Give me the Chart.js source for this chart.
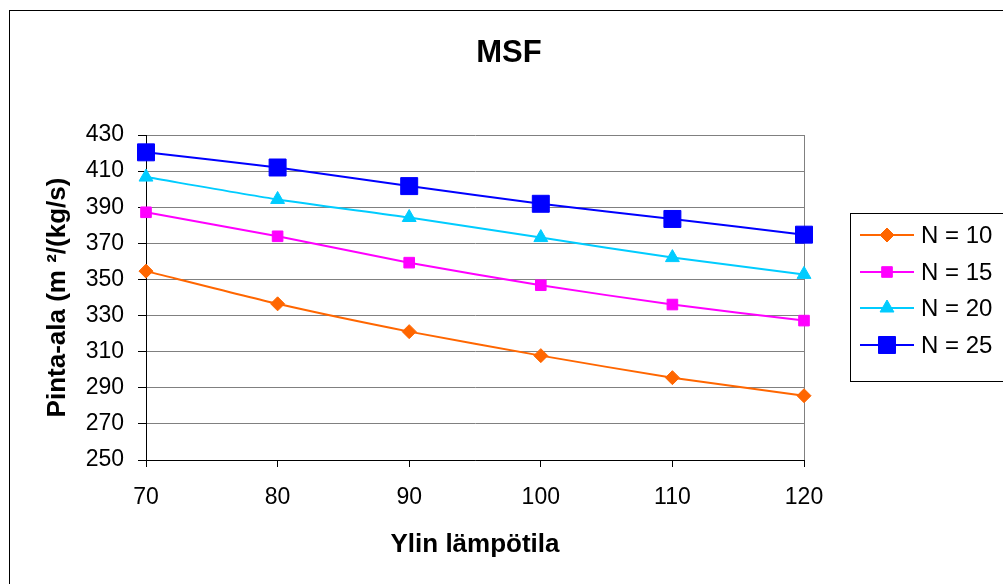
<!DOCTYPE html>
<html><head><meta charset="utf-8">
<script src="https://cdn.jsdelivr.net/npm/chart.js@4/dist/chart.umd.min.js"></script>
<style>html,body{margin:0;padding:0;background:#fff;}canvas{display:block;}</style>
</head><body>
<canvas id="c" width="1003" height="584"></canvas>
<script>
const temps = [70, 80, 90, 100, 110, 120];
const n10 = [354.6, 336.5, 321.1, 307.8, 295.6, 285.6];
const n15 = [387.2, 373.9, 359.3, 346.8, 336.1, 327.2];
const n20 = [406.7, 394.3, 384.3, 373.2, 362.1, 352.8];
const n25 = [420.4, 412.0, 401.7, 391.9, 383.5, 374.8];
const seriesLabels = ['N = 10', 'N = 15', 'N = 20', 'N = 25'];
const titleText = 'MSF';
const xTitle = 'Ylin lämpötila';
const yTitle = 'Pinta-ala (m ²/(kg/s)';

const FONT = "'Liberation Sans', Arial, sans-serif";
const styles = [
  {c:'#FF6600', ps:'rectRot', r:7},
  {c:'#FF00FF', ps:'rect', r:7.5},
  {c:'#00CCFF', ps:'triangle', r:8},
  {c:'#0000FF', ps:'rect', r:12}
];
const values = [n10, n15, n20, n25];
const datasets = values.map((v, i) => ({
  label: seriesLabels[i],
  data: temps.map((t, j) => ({x: t, y: v[j]})),
  borderColor: styles[i].c,
  backgroundColor: styles[i].c,
  pointBackgroundColor: styles[i].c,
  pointBorderColor: styles[i].c,
  pointStyle: styles[i].ps,
  pointRadius: styles[i].r,
  pointBorderWidth: 1,
  borderWidth: 2,
  tension: 0.2,
  clip: false
}));

const decor = {
  id: 'decor',
  beforeDraw(chart) {
    const ctx = chart.ctx;
    ctx.save();
    ctx.fillStyle = '#fff';
    ctx.fillRect(0, 0, chart.width, chart.height);
    ctx.restore();
  },
  beforeDatasetsDraw(chart) {
    const ctx = chart.ctx, a = chart.chartArea;
    ctx.save();
    ctx.strokeStyle = '#808080'; ctx.lineWidth = 1;
    ctx.beginPath(); ctx.moveTo(Math.round(a.right) + 0.5, a.top); ctx.lineTo(Math.round(a.right) + 0.5, a.bottom); ctx.stroke();
    ctx.restore();
  },
  afterDraw(chart) {
    const ctx = chart.ctx;
    ctx.save();
    // outer border
    ctx.strokeStyle = '#000'; ctx.lineWidth = 1;
    ctx.strokeRect(9.5, 10.5, 1100, 700);
    // title
    ctx.fillStyle = '#000';
    ctx.font = 'bold 31px ' + FONT;
    ctx.textAlign = 'center'; ctx.textBaseline = 'middle';
    ctx.fillText(titleText, 509, 53);
    // legend
    ctx.strokeStyle = '#000'; ctx.lineWidth = 1;
    ctx.strokeRect(850.5, 213.5, 200, 168);
    const ys = [235, 272, 308, 345];
    chart.data.datasets.forEach((ds, i) => {
      const y = ys[i];
      ctx.strokeStyle = ds.borderColor; ctx.lineWidth = 2;
      ctx.beginPath(); ctx.moveTo(860, y); ctx.lineTo(914, y); ctx.stroke();
      ctx.fillStyle = ds.borderColor; ctx.strokeStyle = ds.borderColor; ctx.lineWidth = 1;
      Chart.helpers.drawPoint(ctx, {pointStyle: ds.pointStyle, radius: ds.pointRadius, rotation: 0, borderWidth: 1}, 887, y);
      ctx.fillStyle = '#000';
      ctx.font = '24px ' + FONT;
      ctx.textAlign = 'left'; ctx.textBaseline = 'middle';
      ctx.fillText(ds.label, 921, y + 1);
    });
    ctx.restore();
  }
};

new Chart(document.getElementById('c'), {
  type: 'line',
  data: { datasets },
  options: {
    responsive: false,
    animation: false,
    layout: { padding: { left: 10, top: 135, right: 199, bottom: 0 } },
    plugins: { legend: { display: false }, title: { display: false }, tooltip: { enabled: false } },
    scales: {
      x: {
        type: 'linear', min: 70, max: 120,
        ticks: { stepSize: 10, color: '#000', font: { family: FONT, size: 23 }, padding: 17, maxRotation: 0 },
        grid: { drawOnChartArea: false, drawTicks: true, tickLength: 7, color: '#000' },
        border: { color: '#000', width: 1 },
        title: { display: true, text: xTitle, color: '#000', font: { family: FONT, size: 26, weight: 'bold' }, padding: { top: 0, bottom: 24 } },
        afterFit(s) { s.height = 124; }
      },
      y: {
        min: 250, max: 430,
        ticks: { stepSize: 20, color: '#000', font: { family: FONT, size: 23 }, padding: 14 },
        grid: { color: '#808080', tickColor: '#000', tickLength: 8, drawTicks: true },
        border: { color: '#000', width: 1 },
        title: { display: true, text: yTitle, color: '#000', font: { family: FONT, size: 26, weight: 'bold' }, padding: { top: 32, bottom: 0 } },
        afterFit(s) { s.width = 136; }
      }
    }
  },
  plugins: [decor]
});
</script>
</body></html>
